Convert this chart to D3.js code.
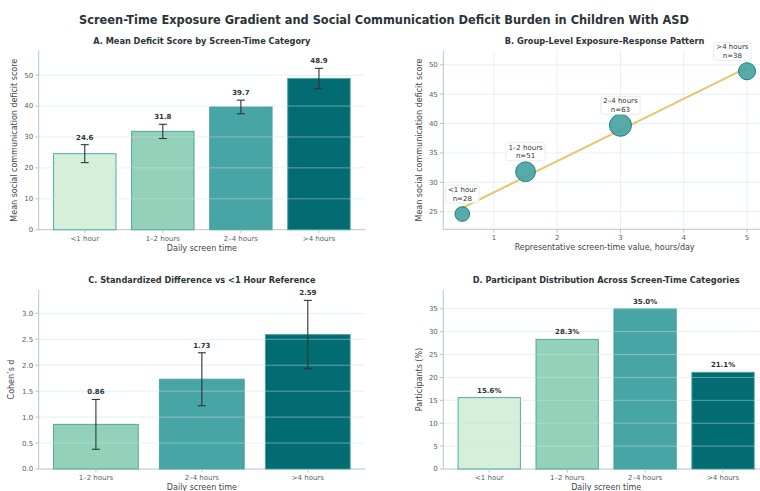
<!DOCTYPE html>
<html><head><meta charset="utf-8">
<script src="https://cdn.jsdelivr.net/npm/d3@7"></script>
<style>
html,body{margin:0;padding:0;background:#fff;}
svg{display:block;font-family:"DejaVu Sans",sans-serif;}
</style></head>
<body>
<svg id="chart" width="760" height="491"></svg>
<script>
// ---- data ----
const categories = ["<1 hour", "1–2 hours", "2–4 hours", ">4 hours"];
const meanScores = [24.6, 31.8, 39.7, 48.9];
const scoreErrors = [2.9, 2.3, 2.2, 3.3];
const repHours = [0.5, 1.5, 3, 5];
const groupN = [28, 51, 63, 38];
const cohenCats = ["1–2 hours", "2–4 hours", ">4 hours"];
const cohenD = [0.86, 1.73, 2.59];
const cohenLow = [0.38, 1.22, 1.93];
const cohenHigh = [1.34, 2.24, 3.25];
const participantPct = [15.6, 28.3, 35.0, 21.1];
const barColors = ["#d5f0da", "#94d1bb", "#48a5a5", "#036c72"];
const yTicksA = [0, 10, 20, 30, 40, 50];
const xTicksB = [1, 2, 3, 4, 5];
const yTicksB = [25, 30, 35, 40, 45, 50];
const yTicksC = [0, 0.5, 1.0, 1.5, 2.0, 2.5, 3.0];
const yTicksD = [0, 5, 10, 15, 20, 25, 30, 35];

const svg = d3.select("#chart");
const spine = "#b9c5c8", tickTxt = "#555f63", labTxt = "#3c4448", titleTxt = "#2b3438";
const gridCol = "#cde0e0";

svg.append("text").attr("x", 384).attr("y", 24).attr("text-anchor", "middle")
  .attr("font-size", 11.4).attr("font-weight", "bold").attr("fill", titleTxt)
  .text("Screen-Time Exposure Gradient and Social Communication Deficit Burden in Children With ASD");

function frame(g, box, x, y, yTicks, yFmt) {
  g.append("line").attr("x1", box.l).attr("x2", box.l).attr("y1", box.t).attr("y2", box.b)
    .attr("stroke", spine).attr("stroke-width", 1);
  g.append("line").attr("x1", box.l).attr("x2", box.r).attr("y1", box.b).attr("y2", box.b)
    .attr("stroke", spine).attr("stroke-width", 1);
  yTicks.forEach(v => {
    g.append("line").attr("x1", box.l - 3.5).attr("x2", box.l).attr("y1", y(v)).attr("y2", y(v))
      .attr("stroke", spine);
    g.append("text").attr("x", box.l - 5.5).attr("y", y(v)).attr("dy", "0.35em")
      .attr("text-anchor", "end").attr("font-size", 7).attr("fill", tickTxt).text(yFmt(v));
  });
}
function grid(g, box, y, yTicks) {
  yTicks.forEach(v => {
    g.append("line").attr("x1", box.l).attr("x2", box.r).attr("y1", y(v)).attr("y2", y(v))
      .attr("stroke", gridCol).attr("stroke-opacity", 0.6).attr("stroke-width", 0.8);
  });
}
function labels(g, box, title, xl, yl, ylx) {
  g.append("text").attr("x", (box.l + box.r) / 2).attr("y", box.t - 7)
    .attr("text-anchor", "middle").attr("font-size", 8.2).attr("font-weight", "bold")
    .attr("fill", titleTxt).text(title);
  g.append("text").attr("x", (box.l + box.r) / 2).attr("y", box.b + 21)
    .attr("text-anchor", "middle").attr("font-size", 8).attr("fill", labTxt).text(xl);
  g.append("text").attr("transform", `translate(${ylx},${(box.t + box.b) / 2}) rotate(-90)`)
    .attr("text-anchor", "middle").attr("font-size", 8).attr("fill", labTxt).text(yl);
}

function barPanel(box, cats, vals, colors, yDomain, yTicks, yFmt, errLo, errHi, valFmt, title, xl, yl, ylx) {
  const g = svg.append("g");
  const n = cats.length;
  const x = d3.scaleBand().domain(cats).range([box.l, box.r])
    .paddingInner(0.2).paddingOuter(0.05 * (n - 0.2));
  const y = d3.scaleLinear().domain(yDomain).range([box.b, box.t]);
  frame(g, box, x, y, yTicks, yFmt);
  cats.forEach((c, i) => {
    g.append("rect").attr("x", x(c)).attr("y", y(vals[i])).attr("width", x.bandwidth())
      .attr("height", y(0) - y(vals[i])).attr("fill", colors[i])
      .attr("stroke", "#3f9e9a").attr("stroke-opacity", 0.8).attr("stroke-width", 1.1);
  });
  grid(g, box, y, yTicks.filter(v => v > yDomain[0]));
  cats.forEach((c, i) => {
    const cx = x(c) + x.bandwidth() / 2;
    g.append("line").attr("x1", cx).attr("x2", cx).attr("y1", box.b).attr("y2", box.b + 3.5).attr("stroke", spine);
    g.append("text").attr("x", cx).attr("y", box.b + 11).attr("text-anchor", "middle")
      .attr("font-size", 7).attr("fill", tickTxt).text(c);
    let top = vals[i];
    if (errLo) {
      const lo = errLo[i], hi = errHi[i];
      top = hi;
      g.append("line").attr("x1", cx).attr("x2", cx).attr("y1", y(lo)).attr("y2", y(hi))
        .attr("stroke", "#2c3538").attr("stroke-width", 1.1);
      [lo, hi].forEach(v => g.append("line").attr("x1", cx - 4).attr("x2", cx + 4)
        .attr("y1", y(v)).attr("y2", y(v)).attr("stroke", "#2c3538").attr("stroke-width", 1.1));
    }
    g.append("text").attr("x", cx).attr("y", y(top) - 5).attr("text-anchor", "middle")
      .attr("font-size", 7).attr("font-weight", "bold").attr("fill", "#2b3438").text(valFmt(vals[i]));
  });
  labels(g, box, title, xl, yl, ylx);
}

// Panel A
barPanel({l: 38.7, r: 365, t: 50.7, b: 229.7}, categories, meanScores, barColors, [0, 57.9], yTicksA,
  d => d, meanScores.map((v, i) => v - scoreErrors[i]), meanScores.map((v, i) => v + scoreErrors[i]),
  d => d.toFixed(1), "A. Mean Deficit Score by Screen-Time Category", "Daily screen time",
  "Mean social communication deficit score", 17);

// Panel C
barPanel({l: 38.7, r: 365, t: 290, b: 469}, cohenCats, cohenD, barColors.slice(1), [0, 3.45], yTicksC,
  d => d.toFixed(1), cohenLow, cohenHigh, d => d.toFixed(2),
  "C. Standardized Difference vs <1 Hour Reference", "Daily screen time", "Cohen’s d", 14);

// Panel D
barPanel({l: 443.3, r: 769, t: 290, b: 469}, categories, participantPct, barColors, [0, 39.1], yTicksD,
  d => d, null, null, d => d.toFixed(1) + "%",
  "D. Participant Distribution Across Screen-Time Categories", "Daily screen time", "Participants (%)", 421.7);

// Panel B
(function () {
  const box = {l: 443.3, r: 766, t: 50.7, b: 229.3};
  const g = svg.append("g");
  const x = d3.scaleLinear().domain([0.2, 5.3]).range([box.l, box.r]);
  const y = d3.scaleLinear().domain([22.0, 52.4]).range([box.b, box.t]);
  yTicksB.forEach(v => g.append("line").attr("x1", box.l).attr("x2", box.r).attr("y1", y(v)).attr("y2", y(v))
    .attr("stroke", gridCol).attr("stroke-opacity", 0.6).attr("stroke-width", 0.8));
  xTicksB.forEach(v => g.append("line").attr("x1", x(v)).attr("x2", x(v)).attr("y1", box.t).attr("y2", box.b)
    .attr("stroke", gridCol).attr("stroke-opacity", 0.6).attr("stroke-width", 0.8));
  frame(g, box, x, y, yTicksB, d => d);
  xTicksB.forEach(v => {
    g.append("line").attr("x1", x(v)).attr("x2", x(v)).attr("y1", box.b).attr("y2", box.b + 3.5).attr("stroke", spine);
    g.append("text").attr("x", x(v)).attr("y", box.b + 11).attr("text-anchor", "middle")
      .attr("font-size", 7).attr("fill", tickTxt).text(v);
  });
  // least-squares trend line from the group points
  const mx = d3.mean(repHours), my = d3.mean(meanScores);
  const slope = d3.sum(repHours, (h, i) => (h - mx) * (meanScores[i] - my)) / d3.sum(repHours, h => (h - mx) ** 2);
  const icpt = my - slope * mx;
  const ends = d3.extent(repHours);
  g.append("path").attr("d", d3.line()(ends.map(h => [x(h), y(icpt + slope * h)])))
    .attr("stroke", "#e9c46a").attr("stroke-width", 2).attr("fill", "none");
  const r = d3.scaleSqrt().domain([0, d3.max(groupN)]).range([0, 11]);
  repHours.forEach((h, i) => {
    g.append("circle").attr("cx", x(h)).attr("cy", y(meanScores[i])).attr("r", r(groupN[i]))
      .attr("fill", "#3f9f9e").attr("fill-opacity", 0.88).attr("stroke", "#1f7f80").attr("stroke-width", 1);
  });
  repHours.forEach((h, i) => {
    let cx = x(h);
    const cy = y(meanScores[i]) - 20;
    const lg = g.append("g");
    const t1 = lg.append("text").attr("y", cy - 4.3).attr("dy", "0.35em").attr("text-anchor", "middle")
      .attr("font-size", 7).attr("fill", "#333").text(categories[i]);
    const t2 = lg.append("text").attr("y", cy + 4.3).attr("dy", "0.35em").attr("text-anchor", "middle")
      .attr("font-size", 7).attr("fill", "#333").text("n=" + groupN[i]);
    const w = Math.max(t1.node().getComputedTextLength(), t2.node().getComputedTextLength()) + 5;
    cx = Math.min(cx, 751 - w / 2);
    t1.attr("x", cx); t2.attr("x", cx);
    lg.insert("rect", "text").attr("x", cx - w / 2).attr("y", cy - 9).attr("width", w).attr("height", 18)
      .attr("rx", 2).attr("fill", "#fff").attr("fill-opacity", 0.85).attr("stroke", "#dde4e6").attr("stroke-width", 0.7);
  });
  labels(g, box, "B. Group-Level Exposure–Response Pattern", "Representative screen-time value, hours/day",
    "Mean social communication deficit score", 421.7);
})();
</script>
</body></html>
